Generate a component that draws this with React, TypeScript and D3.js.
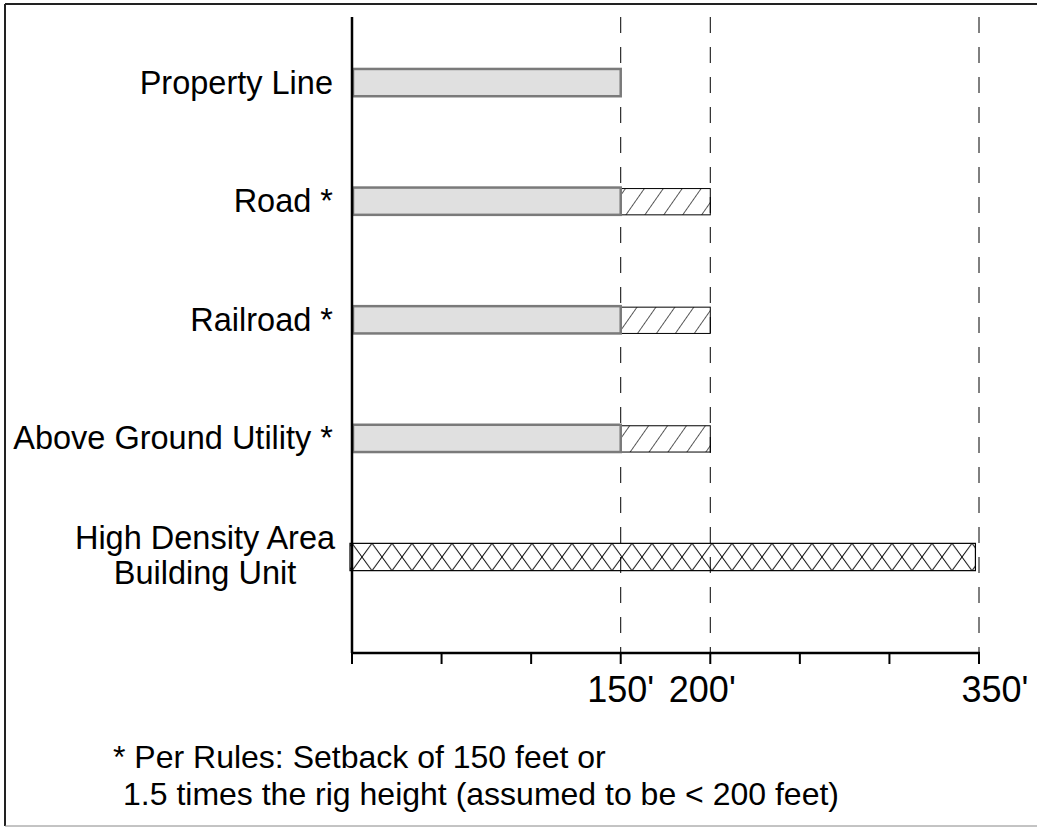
import React from 'react';
import * as d3 from 'd3';

// ---- data ----
const categories = ['Property Line', 'Road *', 'Railroad *', 'Above Ground Utility *', 'High Density Area|Building Unit'];
const baseSetback = [150, 150, 150, 150, 0];        // solid grey bar (feet)
const rigSetbackEnd = [0, 200, 200, 200, 0];        // hatched extension ends at (feet)
const buildingSetback = [0, 0, 0, 0, 348];          // cross-hatched bar (feet)
const refLines = [150, 200, 350];
const axisTicks = [0, 50, 100, 150, 200, 250, 300, 350];
const tickLabels = ["150'", "200'", "350'"];
const footnote = ['* Per Rules: Setback of 150 feet or', '1.5 times the rig height (assumed to be < 200 feet)'];

const W = 1037;
const H = 827;
const FONT = '"Liberation Sans", Arial, Helvetica, sans-serif';

export default function App() {
  const x = d3.scaleLinear().domain([0, 350]).range([352, 979]);
  const y = d3.scaleBand<string>().domain(categories).range([23.3, 616.3]).paddingInner(0.77).paddingOuter(0.385);
  const bw = y.bandwidth();
  const axisTop = 17;
  const axisY = 653;
  const labelOffsets: Record<string, number> = { "150'": 0, "200'": -8, "350'": 16 };

  return (
    <svg width={W} height={H} style={{ position: 'absolute', left: 0, top: 0, background: '#fff' }} fontFamily={FONT}>
      <defs>
        <pattern id="diag" patternUnits="userSpaceOnUse" width={15.5} height={15.5} patternTransform="rotate(35)">
          <line x1={0} y1={0} x2={0} y2={15.5} stroke="#000" strokeWidth={1.3} />
        </pattern>
        {categories.map((c, i) =>
          buildingSetback[i] > 0 ? (
            <pattern key={c} id={`cross${i}`} patternUnits="userSpaceOnUse" x={x(0)} y={y(c)!} width={20} height={bw}>
              <path d={`M0,0L20,${bw}M20,0L0,${bw}`} stroke="#000" strokeWidth={1} fill="none" />
            </pattern>
          ) : null
        )}
      </defs>

      {/* outer frame */}
      <line x1={5} y1={4} x2={W} y2={4} stroke="#222" strokeWidth={2} />
      <line x1={5} y1={4} x2={5} y2={826} stroke="#222" strokeWidth={2} />
      <line x1={5} y1={826} x2={W} y2={826} stroke="#888" strokeWidth={1} />

      {/* reference dashed lines */}
      {refLines.map((v) => (
        <line key={v} x1={x(v)} x2={x(v)} y1={axisTop} y2={axisY} stroke="#000" strokeWidth={1} strokeDasharray="16,14" />
      ))}

      {/* bars */}
      {categories.map((c, i) => {
        const top = y(c)!;
        return (
          <g key={c}>
            {rigSetbackEnd[i] > 0 && (
              <rect x={x(baseSetback[i])} y={top + 1} width={x(rigSetbackEnd[i]) - x(baseSetback[i])} height={bw - 1}
                fill="url(#diag)" stroke="#000" strokeWidth={1} />
            )}
            {baseSetback[i] > 0 && (
              <rect x={x(0) + 1} y={top} width={x(baseSetback[i]) - x(0) - 1} height={bw}
                fill="#e0e0e0" stroke="#7a7a7a" strokeWidth={2.5} />
            )}
            {buildingSetback[i] > 0 && (
              <rect x={x(0) - 2} y={top} width={x(buildingSetback[i]) - x(0) + 2} height={bw}
                fill={`url(#cross${i})`} stroke="#000" strokeWidth={1.2} />
            )}
          </g>
        );
      })}

      {/* axes */}
      <line x1={x(0)} x2={x(0)} y1={axisTop} y2={axisY} stroke="#000" strokeWidth={2.5} />
      <line x1={x(0) - 1} x2={x(350) + 1} y1={axisY} y2={axisY} stroke="#000" strokeWidth={2.5} />
      {axisTicks.map((t) => (
        <line key={t} x1={x(t)} x2={x(t)} y1={axisY} y2={axisY + 11} stroke="#000" strokeWidth={2} />
      ))}
      {refLines.map((v, i) => (
        <text key={v} x={x(v) + labelOffsets[tickLabels[i]]} y={702} textAnchor="middle" fontSize={36} fill="#000">
          {tickLabels[i]}
        </text>
      ))}

      {/* category labels */}
      {categories.map((c) => {
        const cy = y(c)! + bw / 2;
        const parts = c.split('|');
        if (parts.length === 1) {
          return (
            <text key={c} x={333} y={cy + 11} textAnchor="end" fontSize={32.5} fill="#000">{c}</text>
          );
        }
        return (
          <text key={c} x={205} textAnchor="middle" fontSize={32.5} fill="#000">
            <tspan x={205} y={cy - 8}>{parts[0]}</tspan>
            <tspan x={205} y={cy + 27}>{parts[1]}</tspan>
          </text>
        );
      })}

      {/* footnote */}
      <text x={113} y={768} fontSize={32} fill="#000">{footnote[0]}</text>
      <text x={123} y={805} fontSize={32} fill="#000">{footnote[1]}</text>
    </svg>
  );
}
